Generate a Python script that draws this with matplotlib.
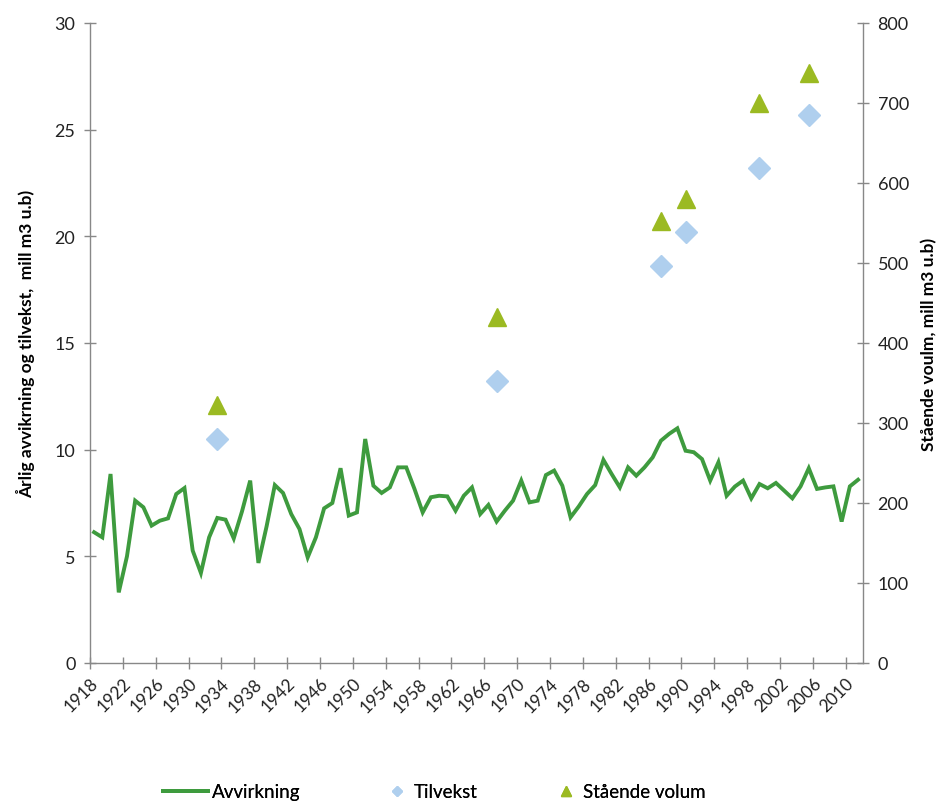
import matplotlib
matplotlib.use("Agg")
import matplotlib.pyplot as plt
from matplotlib.lines import Line2D

plt.rcParams['font.family'] = ['Lato', 'DejaVu Sans']

# Annual harvest (Avvirkning), mill m3 u.b, 1918-2011
years = list(range(1918, 2012))
avvirkning = [
    6.13, 5.89, 8.86, 3.31, 5.0, 7.61, 7.30, 6.44, 6.67, 6.78,
    7.92, 8.20, 5.27, 4.22, 5.89, 6.80, 6.72, 5.84, 7.1, 8.55,
    4.69, 6.41, 8.34, 7.97, 6.98, 6.28, 4.95, 5.89, 7.25, 7.50,
    9.13, 6.91, 7.06, 10.50, 8.31, 7.97, 8.23, 9.17, 9.17, 8.16,
    7.06, 7.77, 7.84, 7.81, 7.14, 7.84, 8.23, 6.98, 7.41, 6.63,
    7.14, 7.61, 8.55, 7.53, 7.61, 8.81, 9.02, 8.31, 6.83, 7.34,
    7.92, 8.34, 9.52, 8.86, 8.23, 9.17, 8.78, 9.17, 9.64, 10.42,
    10.74, 11.0, 9.95, 9.88, 9.56, 8.55, 9.41, 7.84, 8.27, 8.55,
    7.72, 8.39, 8.19, 8.44, 8.08, 7.72, 8.28, 9.13, 8.16, 8.23,
    8.28, 6.63, 8.28, 8.59,
]

# Survey years for growth and standing volume
survey_years = [1933, 1967, 1987, 1990, 1999, 2005]
tilvekst = [10.5, 13.2, 18.6, 20.2, 23.2, 25.7]          # left axis
staende_volum = [322, 432, 552, 580, 700, 738]            # right axis

xtick_years = list(range(1918, 2011, 4))

line_color = '#3E9B3E'
diamond_color = '#AFCFEE'
tri_color = '#9BBA22'
axis_color = '#888888'
W, H = 941, 803

fig = plt.figure(figsize=(W / 100, H / 100), dpi=100)
ax = fig.add_axes([90 / W, 1 - 664 / H, (863 - 90) / W, (664 - 24) / H])
ax2 = ax.twinx()

ax.plot(years, avvirkning, color=line_color, lw=2.8, solid_joinstyle='miter', zorder=3)
ax.plot(survey_years, tilvekst, linestyle='none', marker='D', markersize=11,
        color=diamond_color, markeredgecolor=diamond_color, zorder=4)
ax2.plot(survey_years, staende_volum, linestyle='none', marker='^', markersize=13,
         color=tri_color, markeredgecolor=tri_color, zorder=4)

ax.set_xlim(1917.5, 2011.6)
ax.set_ylim(0, 30)
ax2.set_ylim(0, 800)
ax.set_yticks(range(0, 31, 5))
ax2.set_yticks(range(0, 801, 100))

ax.set_xticks([y - 0.5 for y in xtick_years])
ax.set_xticklabels([str(y) for y in xtick_years], rotation=45, ha='right',
                   rotation_mode='anchor', fontsize=12.5)

for a in (ax, ax2):
    a.set_facecolor('none')
    for s in a.spines.values():
        s.set_color(axis_color)
        s.set_linewidth(1.0)
    a.spines['top'].set_visible(False)
    a.tick_params(colors=axis_color, labelcolor='#222222', direction='inout',
                  length=9, width=1.0, labelsize=13)
ax.spines['right'].set_visible(False)
ax2.spines['left'].set_visible(False)
ax2.spines['bottom'].set_visible(False)
ax.tick_params(axis='x', pad=4, labelsize=12.5)
ax.tick_params(axis='y', pad=6)
ax2.tick_params(axis='y', pad=6)

ax.set_ylabel('Årlig avvikrning og tilvekst,  mill m3 u.b)', fontsize=12.5,
              fontweight='bold', labelpad=14)
ax2.set_ylabel('Stående voulm, mill m3 u.b)', fontsize=12.5,
               fontweight='bold', labelpad=9)

# Legend: one entry per legend box, laid out along the bottom
legend_y = 1 - 793 / H
entries = [
    (Line2D([], [], color=line_color, lw=2.8), 'Avvirkning', 163, 2.4, 0.2),
    (Line2D([], [], linestyle='none', marker='D', markersize=5, color=diamond_color),
     'Tilvekst', 388, 1.0, 0.4),
    (Line2D([], [], linestyle='none', marker='^', markersize=7, color=tri_color),
     'Stående volum', 557, 1.0, 0.4),
]
for handle, label, x0, hl, tp in entries:
    leg = fig.legend([handle], [label], loc='center left',
                     bbox_to_anchor=(x0 / W, legend_y), frameon=False,
                     fontsize=13.5, handlelength=hl, handletextpad=tp,
                     borderpad=0, borderaxespad=0)
    fig.add_artist(leg)

fig.savefig('out.png', dpi=100)
